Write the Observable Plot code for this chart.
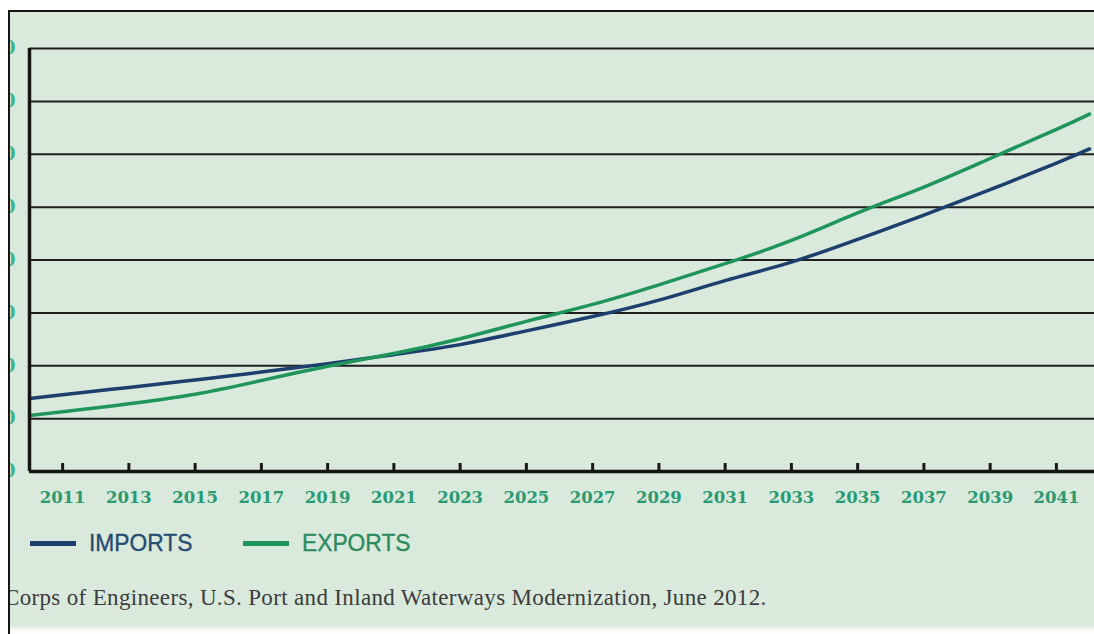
<!DOCTYPE html>
<html>
<head>
<meta charset="utf-8">
<script src="https://cdn.jsdelivr.net/npm/d3@7"></script>
<script src="https://cdn.jsdelivr.net/npm/@observablehq/plot@0.6"></script>
<style>
  html, body { margin: 0; padding: 0; background: #fff; width: 1094px; height: 634px; overflow: hidden; }
  #frame {
    position: absolute; left: 8px; top: 10px; width: 1084px; height: 622px;
    border-left: 2px solid #151515; border-top: 2px solid #151515;
    overflow: hidden;
    background: linear-gradient(#d9eadc 0, #d9eadc 614px, #f4f6f3 617px, #fff 622px);
  }
  #chart { position: absolute; left: -60px; top: 0; }
  #chart svg { background: transparent !important; overflow: visible; }
  .legend { position: absolute; top: 516px; height: 30px; font-family: "Liberation Sans", Arial, sans-serif; font-size: 24px; display: flex; align-items: center; -webkit-text-stroke: 0.35px currentColor; }
  .legend .sw { width: 46px; height: 5px; margin-right: 13px; flex: none; }
  .legend span { display: inline-block; transform: scaleX(0.95); transform-origin: left center; }
  #caption { position: absolute; left: -6px; top: 573px; font-family: "Liberation Serif", "DejaVu Serif", serif; font-size: 23px; color: #3c3c3c; white-space: nowrap; letter-spacing: 0.34px; }
</style>
</head>
<body>
<div id="frame">
  <div id="chart"></div>
  <div class="legend" style="left:20px;color:#274a72;"><div class="sw" style="background:#1d3f6e"></div><span id="l1"></span></div>
  <div class="legend" style="left:233px;color:#2b8a5c;"><div class="sw" style="background:#1f955a"></div><span id="l2"></span></div>
  <div id="caption"></div>
</div>
<script>
// ---- data ----
const years = [2010, 2011, 2013, 2015, 2017, 2019, 2021, 2023, 2025, 2027, 2029, 2031, 2033, 2035, 2037, 2039, 2041, 2042];
const imports = [13.8, 14.5, 15.9, 17.3, 18.8, 20.4, 22.1, 24.0, 26.6, 29.3, 32.4, 36.1, 39.6, 43.9, 48.5, 53.3, 58.3, 61.0];
const exports = [10.6, 11.3, 12.8, 14.6, 17.2, 19.9, 22.3, 25.1, 28.4, 31.6, 35.3, 39.3, 43.7, 48.9, 53.8, 59.2, 64.7, 67.6];
const seriesNames = ["IMPORTS", "EXPORTS"];
const seriesColors = ["#1d3f6e", "#1f955a"];
const xTicks = [2011, 2013, 2015, 2017, 2019, 2021, 2023, 2025, 2027, 2029, 2031, 2033, 2035, 2037, 2039, 2041];
const yTicks = [0, 10, 20, 30, 40, 50, 60, 70, 80];
const captionText = "Corps of Engineers, U.S. Port and Inland Waterways Modernization, June 2012.";

const rows = [];
years.forEach((yr, i) => {
  rows.push({year: yr, value: imports[i], series: seriesNames[0]});
  rows.push({year: yr, value: exports[i], series: seriesNames[1]});
});

const chart = Plot.plot({
  width: 1144,
  height: 499,
  marginLeft: 79,
  marginRight: 0,
  marginTop: 36,
  marginBottom: 40,
  style: {background: "transparent", overflow: "visible"},
  x: {domain: [2010, 2042.15]},
  y: {domain: [0, 80]},
  color: {domain: seriesNames, range: seriesColors},
  marks: [
    Plot.ruleY(yTicks.slice(1), {stroke: "#1e1e1e", strokeWidth: 2}),
    Plot.axisY({ticks: yTicks, tickSize: 0, tickPadding: 14, fill: "#3fb58e", fontSize: 18, fontWeight: "bold", fontFamily: "DejaVu Serif", label: null}),
    Plot.axisX({ticks: xTicks, tickSize: -8, tickPadding: 0, text: null, stroke: "#1a1a1a", strokeWidth: 3, label: null}),
    Plot.axisX({ticks: xTicks, tickSize: 0, tickPadding: 20, tickFormat: d => String(d), fill: "#2a9a72", fontSize: 16.5, fontWeight: "bold", fontFamily: "DejaVu Serif", label: null}),
    Plot.line(rows, {x: "year", y: "value", z: "series", stroke: "series", strokeWidth: 3.5, curve: "natural"}),
    Plot.ruleY([0], {stroke: "#141414", strokeWidth: 3.5}),
    Plot.ruleX([2010], {stroke: "#141414", strokeWidth: 3.5})
  ]
});
document.getElementById("chart").appendChild(chart);
document.getElementById("l1").textContent = seriesNames[0];
document.getElementById("l2").textContent = seriesNames[1];
document.getElementById("caption").textContent = captionText;
</script>
</body>
</html>
